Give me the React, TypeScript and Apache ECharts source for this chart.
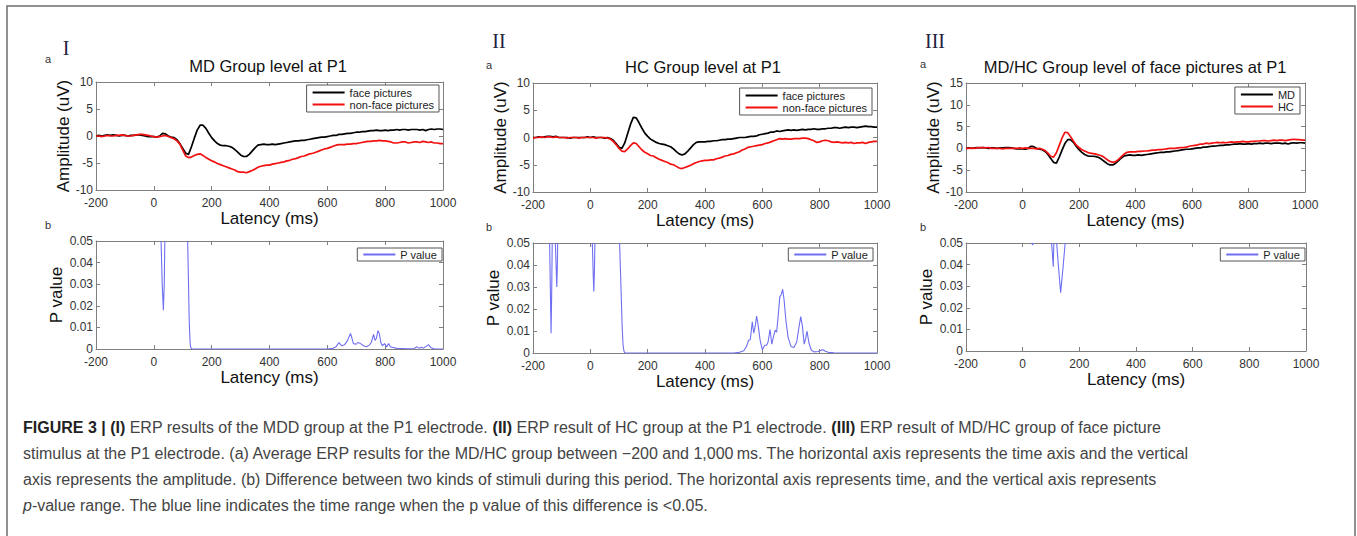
import React, { useEffect, useRef } from "react";
import * as echarts from "echarts";

const FONT = "'Liberation Sans', Arial, Helvetica, sans-serif";
const SERIF = "'Liberation Serif', 'Times New Roman', serif";

// ---- shared time axis for the ERP curves (ms) ----
const latency = [
  -200, -190, -180, -170, -160, -150, -140, -130, -120, -110,
  -100, -90, -80, -70, -60, -50, -40, -30, -20, -10,
  0, 10, 20, 30, 40, 50, 60, 70, 80, 90,
  100, 110, 120, 130, 140, 150, 160, 170, 180, 190,
  200, 210, 220, 230, 240, 250, 260, 270, 280, 290,
  300, 310, 320, 330, 340, 350, 360, 370, 380, 390,
  400, 410, 420, 430, 440, 450, 460, 470, 480, 490,
  500, 510, 520, 530, 540, 550, 560, 570, 580, 590,
  600, 610, 620, 630, 640, 650, 660, 670, 680, 690,
  700, 710, 720, 730, 740, 750, 760, 770, 780, 790,
  800, 810, 820, 830, 840, 850, 860, 870, 880, 890,
  900, 910, 920, 930, 940, 950, 960, 970, 980, 990,
  1000,
];

// MD group, face pictures (uV)
const mdFace = [
  0.0, 0.1, 0.0, 0.1, 0.2, 0.1, 0.2, 0.1, 0.0, 0.1,
  0.1, 0.0, 0.1, 0.1, 0.2, 0.2, 0.1, 0.0, -0.1, -0.1,
  -0.1, -0.2, 0.0, 0.5, 0.4, 0.0, -0.2, -0.3, -0.7, -1.4,
  -2.3, -3.2, -3.4, -2.0, -0.4, 1.1, 2.0, 2.0, 1.4, 0.5,
  -0.3, -0.9, -1.4, -1.7, -1.8, -1.8, -1.9, -2.1, -2.5, -3.0,
  -3.5, -3.8, -3.8, -3.4, -2.8, -2.2, -1.7, -1.6, -1.5, -1.6,
  -1.6, -1.5, -1.6, -1.5, -1.4, -1.3, -1.2, -1.1, -1.0, -0.9,
  -0.9, -0.8, -0.8, -0.7, -0.6, -0.5, -0.4, -0.3, -0.2, -0.2,
  -0.1, 0.0, 0.1, 0.1, 0.3, 0.3, 0.4, 0.5, 0.5, 0.6,
  0.7, 0.7, 0.8, 0.8, 0.9, 1.0, 1.0, 1.1, 1.0, 1.0,
  1.1, 1.0, 1.1, 1.1, 1.2, 1.1, 1.2, 1.2, 1.1, 1.2,
  1.2, 1.2, 1.1, 1.2, 1.0, 1.2, 1.3, 1.2, 1.3, 1.3,
  1.2,
];

// MD group, non-face pictures (uV)
const mdNonFace = [
  0.0, 0.0, -0.1, 0.0, 0.1, 0.0, 0.0, 0.1, 0.1, 0.2,
  0.1, 0.0, 0.0, 0.1, 0.2, 0.3, 0.3, 0.2, 0.1, 0.0,
  -0.1, -0.2, -0.1, 0.0, 0.1, -0.1, -0.3, -0.5, -0.9, -1.5,
  -2.6, -3.7, -4.0, -3.9, -3.6, -3.4, -3.3, -3.6, -4.0, -4.3,
  -4.6, -4.8, -5.1, -5.3, -5.5, -5.7, -5.9, -6.1, -6.3, -6.6,
  -6.7, -6.7, -6.8, -6.6, -6.4, -6.1, -5.8, -5.6, -5.5, -5.4,
  -5.4, -5.2, -5.1, -5.0, -4.9, -4.8, -4.6, -4.5, -4.3, -4.2,
  -4.0, -3.8, -3.7, -3.5, -3.3, -3.2, -3.0, -2.8, -2.6, -2.4,
  -2.3, -2.1, -1.9, -1.7, -1.6, -1.6, -1.6, -1.5, -1.5, -1.4,
  -1.4, -1.3, -1.2, -1.1, -1.0, -1.0, -0.9, -0.9, -0.8, -0.9,
  -0.9, -1.0, -1.1, -1.3, -1.3, -1.2, -1.1, -1.1, -1.3, -1.2,
  -1.1, -1.1, -1.2, -1.0, -1.1, -1.2, -1.1, -1.3, -1.3, -1.4,
  -1.4,
];

// HC group, face pictures (uV)
const hcFace = [
  0.0, 0.0, 0.1, 0.0, 0.1, 0.2, 0.2, 0.1, 0.2, 0.0,
  0.0, 0.0, 0.0, -0.1, 0.0, 0.0, 0.0, 0.0, 0.0, 0.1,
  0.0, 0.1, 0.0, 0.0, 0.0, -0.1, 0.0, -0.2, -0.5, -1.1,
  -1.8, -2.0, -1.0, 0.7, 2.4, 3.7, 3.6, 2.7, 1.7, 0.8,
  0.2, -0.3, -0.6, -0.9, -1.1, -1.2, -1.3, -1.5, -1.7, -2.1,
  -2.6, -3.0, -3.2, -3.0, -2.5, -1.9, -1.3, -0.9, -0.8, -0.8,
  -0.8, -0.7, -0.7, -0.6, -0.6, -0.5, -0.4, -0.4, -0.3, -0.3,
  -0.2, -0.1, 0.0, 0.0, 0.0, 0.1, 0.2, 0.2, 0.3, 0.5,
  0.6, 0.7, 0.8, 1.0, 1.0, 1.2, 1.1, 1.2, 1.3, 1.4,
  1.3, 1.4, 1.3, 1.4, 1.5, 1.4, 1.5, 1.5, 1.6, 1.5,
  1.5, 1.6, 1.6, 1.7, 1.7, 1.8, 1.8, 1.7, 1.8, 1.9,
  1.8, 1.9, 1.9, 1.8, 1.9, 2.0, 2.1, 2.0, 2.0, 1.9,
  1.9,
];

// HC group, non-face pictures (uV)
const hcNonFace = [
  -0.1, 0.0, 0.0, 0.1, 0.0, 0.1, 0.1, 0.0, 0.1, 0.0,
  0.0, 0.0, -0.1, 0.0, 0.0, 0.0, -0.1, 0.0, 0.0, 0.0,
  0.0, 0.0, -0.1, 0.0, 0.0, 0.0, -0.1, -0.3, -0.7, -1.3,
  -2.0, -2.5, -2.6, -2.1, -1.5, -1.0, -1.1, -1.7, -2.3, -2.7,
  -3.0, -3.3, -3.4, -3.7, -4.0, -4.2, -4.4, -4.6, -4.9, -5.0,
  -5.3, -5.6, -5.7, -5.5, -5.3, -5.1, -4.8, -4.6, -4.4, -4.3,
  -4.2, -4.2, -4.1, -4.1, -3.9, -3.8, -3.6, -3.4, -3.3, -3.1,
  -3.0, -2.8, -2.6, -2.3, -2.1, -1.8, -1.7, -1.6, -1.5, -1.4,
  -1.3, -1.1, -1.0, -0.8, -0.6, -0.4, -0.2, -0.3, -0.2, -0.3,
  -0.3, -0.2, -0.2, -0.2, -0.1, -0.1, -0.2, -0.4, -0.6, -0.9,
  -0.8, -0.6, -0.5, -0.6, -0.8, -0.9, -0.8, -0.9, -1.0, -0.9,
  -1.0, -0.9, -1.1, -1.0, -1.0, -0.9, -1.1, -0.9, -0.8, -0.7,
  -0.7,
];

// P values (null = above 0.05, outside the plotted range)
const pLatencyMD = [
  25, 29, 33, 36, 38, 77, 117, 120, 122, 124, 126, 128, 132, 200, 400, 600,
  620, 630, 640, 650, 660, 670, 680, 685, 690, 700, 705, 715, 725, 735, 745,
  752, 760, 765, 770, 775, 780, 785, 790, 798, 805, 812, 818, 825, 840, 860,
  880, 900, 910, 918, 925, 932, 940, 950, 958, 970, 1000,
];
const pValueMD = [
  0.05, 0.03, 0.018, 0.03, 0.05, null, 0.05, 0.03, 0.015, 0.007, 0.002, 0.0005, 0, 0, 0, 0,
  0.0003, 0.001, 0.003, 0.0015, 0.002, 0.004, 0.0072, 0.005, 0.0025, 0.0022, 0.003, 0.0025, 0.0015, 0.001, 0.0018,
  0.003, 0.0068, 0.004, 0.005, 0.0085, 0.007, 0.003, 0.0015, 0.0025, 0.001, 0.0025, 0.001, 0.0008, 0.0003, 0.0002,
  0.0001, 0.0002, 0.001, 0.0003, 0.0008, 0.0004, 0.001, 0.002, 0.0006, 0.0001, 0,
];

const pLatencyHC = [
  -142, -139, -137, -135, -133, -128, -122, -119, -117, -115, -114, -50,
  7, 10, 12, 14, 16, 60, 102, 105, 108, 111, 114, 117, 120, 300, 500, 520,
  535, 545, 552, 558, 565, 570, 575, 580, 585, 592, 600, 608, 615, 620, 627,
  633, 640, 645, 650, 656, 661, 666, 671, 676, 682, 690, 700, 710, 720, 728,
  734, 740, 746, 751, 756, 762, 770, 780, 795, 805, 812, 820, 830, 850, 900,
  1000,
];
const pValueHC = [
  0.05, 0.025, 0.009, 0.025, 0.05, null, 0.05, 0.038, 0.03, 0.04, 0.05, null,
  0.05, 0.036, 0.028, 0.036, 0.05, null, 0.05, 0.038, 0.025, 0.012, 0.004, 0.001, 0, 0, 0, 0.0003,
  0.001, 0.003, 0.0058, 0.006, 0.0142, 0.009, 0.012, 0.0168, 0.013, 0.006, 0.0015, 0.0035, 0.0035, 0.005, 0.0107,
  0.004, 0.008, 0.0104, 0.0095, 0.018, 0.0255, 0.0265, 0.029, 0.024, 0.015, 0.007, 0.003, 0.0025, 0.005, 0.012,
  0.0165, 0.012, 0.004, 0.0065, 0.0099, 0.005, 0.0015, 0.0005, 0.0007, 0.0013, 0.0015, 0.0008, 0.0003, 0.0001, 0,
  0,
];

const pLatencyGroup = [33, 35, 37, 70, 102, 106, 108, 109, 110, 115, 120, 127, 134, 142, 150];
const pValueGroup = [0.05, 0.049, 0.05, null, 0.05, 0.043, 0.039, 0.045, 0.05, null, 0.05, 0.038, 0.027, 0.038, 0.05];

// ---- texts ----
const titles = ["MD Group level at P1", "HC Group level at P1", "MD/HC Group level of face pictures at P1"];
const romans = ["I", "II", "III"];
const captionLines = [
  "{b|FIGURE 3 | (I)}{n| ERP results of the MDD group at the P1 electrode. }{b|(II)}{n| ERP result of HC group at the P1 electrode. }{b|(III)}{n| ERP result of MD/HC group of face picture}",
  "{n|stimulus at the P1 electrode. (a) Average ERP results for the MD/HC group between \u2212200 and 1,000\u2009ms. The horizontal axis represents the time axis and the vertical}",
  "{n|axis represents the amplitude. (b) Difference between two kinds of stimuli during this period. The horizontal axis represents time, and the vertical axis represents}",
  "{i|p}{n|-value range. The blue line indicates the time range when the p value of this difference is <0.05.}",
];

const toPairs = (xs: number[], ys: (number | null)[]) =>
  xs.map((x, i) => [x, ys[i] === null ? "-" : ys[i]]);

const AX = "#7f7f7f";

const grids = [
  { left: 96, top: 82, width: 347, height: 108 },
  { left: 96, top: 241, width: 347, height: 108 },
  { left: 533, top: 83, width: 344, height: 109 },
  { left: 533, top: 243, width: 344, height: 110 },
  { left: 966, top: 83, width: 339, height: 109 },
  { left: 966, top: 243, width: 340, height: 108 },
];

function buildAxes(gi: number, yMin: number, yMax: number, yInt: number, isP: boolean, xGap: number, yGap: number) {
  const line = { show: true, onZero: false, lineStyle: { color: AX, width: 1 } };
  const tick = { show: true, inside: true, length: 4, lineStyle: { color: AX, width: 1 } };
  const xMain = {
    gridIndex: gi, type: "value", min: -200, max: 1000, interval: 200, position: "bottom",
    axisLine: line, axisTick: tick, splitLine: { show: false },
    axisLabel: { fontSize: 12, lineHeight: 10, color: "#333", margin: 8, fontFamily: FONT, formatter: (v: number) => String(v) },
    name: "Latency (ms)", nameLocation: "middle", nameGap: xGap,
    nameTextStyle: { fontSize: 17, lineHeight: 12, color: "#111", fontFamily: FONT },
  };
  const xMirror = {
    gridIndex: gi, type: "value", min: -200, max: 1000, interval: 200, position: "top",
    axisLine: line, axisTick: tick, splitLine: { show: false }, axisLabel: { show: false },
  };
  const yMain = {
    gridIndex: gi, type: "value", min: yMin, max: yMax, interval: yInt, position: "left",
    axisLine: line, axisTick: tick, splitLine: { show: false },
    axisLabel: { fontSize: 12, lineHeight: 10, color: "#333", margin: 3, fontFamily: FONT, formatter: (v: number) => String(v) },
    name: isP ? "P value" : "Amplitude (uV)", nameLocation: "middle", nameGap: yGap, nameRotate: 90,
    nameTextStyle: { fontSize: 17, color: "#111", fontFamily: FONT },
  };
  const yMirror = {
    gridIndex: gi, type: "value", min: yMin, max: yMax, interval: yInt, position: "right",
    axisLine: line, axisTick: tick, splitLine: { show: false }, axisLabel: { show: false },
  };
  return { x: [xMain, xMirror], y: [yMain, yMirror] };
}

function lineSeries(name: string, gi: number, data: any[], color: string, width: number) {
  return {
    type: "line", name, xAxisIndex: gi * 2, yAxisIndex: gi * 2, data,
    symbol: "none", showSymbol: false, clip: true, connectNulls: false,
    itemStyle: { color }, lineStyle: { color, width }, emphasis: { disabled: true },
  };
}

function legendBox(names: string[], right: number, top: number, padV: number) {
  return {
    orient: "vertical", right, top, data: names, icon: "rect", itemWidth: 32, itemHeight: 2,
    itemGap: 1, padding: [padV, 5, padV, 6], borderColor: "#555", borderWidth: 1,
    backgroundColor: "#fff", selectedMode: false,
    textStyle: { fontSize: 11, color: "#222", fontFamily: FONT },
  };
}

function txt(x: number, y: number, text: string, size: number, color: string, family: string, align = "center") {
  return {
    type: "text", x, y, silent: true,
    style: { text, fontSize: size, fill: color, fontFamily: family, align, textAlign: align, verticalAlign: "middle", textVerticalAlign: "middle" },
  };
}

export default function App() {
  const ref = useRef<HTMLDivElement>(null);
  useEffect(() => {
    if (!ref.current) return;
    const chart = echarts.init(ref.current, undefined, { renderer: "svg" });

    const specs = [
      buildAxes(0, -10, 10, 5, false, 18, 23),
      buildAxes(1, 0, 0.05, 0.01, true, 21, 31),
      buildAxes(2, -10, 10, 5, false, 18, 22),
      buildAxes(3, 0, 0.05, 0.01, true, 18.5, 31),
      buildAxes(4, -10, 15, 5, false, 18, 23),
      buildAxes(5, 0, 0.05, 0.01, true, 20, 31),
    ];
    const xAxis: any[] = [];
    const yAxis: any[] = [];
    specs.forEach((s) => { xAxis.push(...s.x); yAxis.push(...s.y); });

    const BLUE = "#6f6ff2";
    const series = [
      lineSeries("face pictures", 0, toPairs(latency, mdFace), "#000", 1.7),
      lineSeries("non-face pictures", 0, toPairs(latency, mdNonFace), "#f21010", 1.7),
      lineSeries("P value", 1, toPairs(pLatencyMD, pValueMD), BLUE, 1.1),
      lineSeries("face pictures", 2, toPairs(latency, hcFace), "#000", 1.7),
      lineSeries("non-face pictures", 2, toPairs(latency, hcNonFace), "#f21010", 1.7),
      lineSeries("P value", 3, toPairs(pLatencyHC, pValueHC), BLUE, 1.1),
      lineSeries("MD", 4, toPairs(latency, mdFace), "#000", 1.7),
      lineSeries("HC", 4, toPairs(latency, hcFace), "#f21010", 1.7),
      lineSeries("P value", 5, toPairs(pLatencyGroup, pValueGroup), BLUE, 1.1),
    ];

    const legend = [
      legendBox(["face pictures", "non-face pictures"], 918, 85, 2),
      legendBox(["P value"], 915, 248, 1),
      legendBox(["face pictures", "non-face pictures"], 485, 88, 2),
      legendBox(["P value"], 484, 248, 1),
      legendBox(["MD", "HC"], 57, 87, 2),
      legendBox(["P value"], 52, 248, 1),
    ];

    const capStyle = (extra: any) => ({ fontSize: 16, fontFamily: FONT, fill: "#444", ...extra });
    const graphic: any[] = [
      { type: "rect", silent: true, shape: { x: 7, y: 6, width: 1348, height: 600 }, style: { fill: "none", stroke: "#6e6e6e", lineWidth: 1.5 } },
      txt(66, 48, romans[0], 20, "#1e2240", SERIF),
      txt(499, 41, romans[1], 20, "#1e2240", SERIF),
      txt(935, 41, romans[2], 20, "#1e2240", SERIF),
      txt(48, 59, "a", 11, "#333", FONT),
      txt(489, 65, "a", 11, "#333", FONT),
      txt(923, 64, "a", 11, "#333", FONT),
      txt(48, 225, "b", 11, "#333", FONT),
      txt(489, 227, "b", 11, "#333", FONT),
      txt(923, 227, "b", 11, "#333", FONT),
      txt(268, 66, titles[0], 16.5, "#111", FONT),
      txt(703, 67, titles[1], 16.5, "#111", FONT),
      txt(1135, 67, titles[2], 16.5, "#111", FONT),
    ];
    captionLines.forEach((line, i) => {
      graphic.push({
        type: "text", x: 23, y: 427 + i * 26, silent: true,
        style: {
          text: line, fontSize: 16, fontFamily: FONT, fill: "#444",
          align: "left", textAlign: "left", verticalAlign: "middle", textVerticalAlign: "middle",
          rich: {
            n: capStyle({}),
            b: capStyle({ fontWeight: "bold", fill: "#222" }),
            i: capStyle({ fontStyle: "italic" }),
          },
        },
      });
    });

    chart.setOption({
      animation: false,
      backgroundColor: "#fff",
      grid: grids.map((g) => ({ ...g, containLabel: false })),
      xAxis, yAxis, series, legend, graphic,
      tooltip: { show: false },
    });
    return () => chart.dispose();
  }, []);

  return (
    <div
      ref={ref}
      style={{ position: "absolute", left: 0, top: 0, width: 1357, height: 536, background: "#fff" }}
    />
  );
}
